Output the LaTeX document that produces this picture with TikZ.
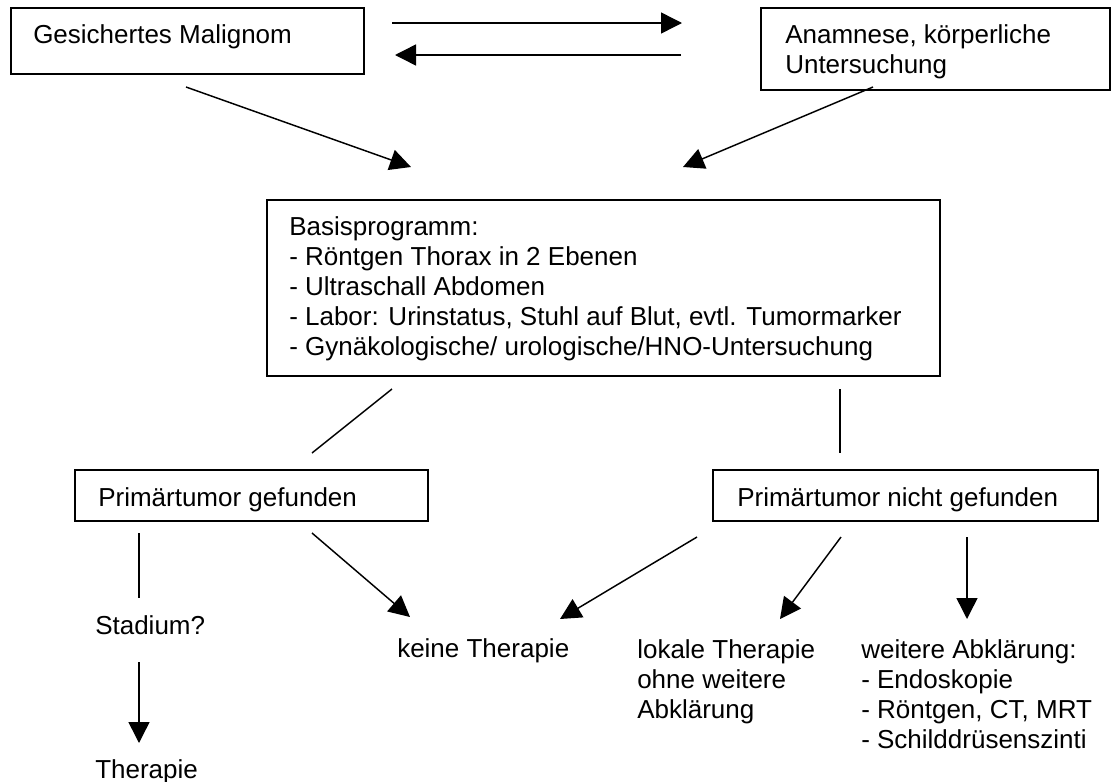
\documentclass[tikz,border=0pt]{standalone}
\usepackage{fontspec}
\setmainfont{Liberation Sans}
\usetikzlibrary{arrows.meta}
\begin{document}
\begin{tikzpicture}[x=0.75pt,y=-0.75pt,
  box/.style={draw, line width=1.4pt, inner sep=0pt, anchor=north west},
  txt/.style={inner sep=0pt, font=\fontsize{19.5}{22.5}\selectfont},
  mtxt/.style={txt, align=left, anchor=north west},
  conn/.style={line width=1.1pt},
  arr/.style={conn, -{Triangle[length=15.75pt,width=15.75pt]}}]
\useasboundingbox (0,0) rectangle (1111,782);
\fill[white] (0,0) rectangle (1111,782);

% boxes
\node[box, minimum width={353*0.75pt}, minimum height={66*0.75pt}] (gm) at (10,7) {};
\node[box, minimum width={349*0.75pt}, minimum height={82*0.75pt}] (an) at (760,7) {};
\node[box, minimum width={673*0.75pt}, minimum height={176*0.75pt}] (bp) at (266,199) {};
\node[box, minimum width={353*0.75pt}, minimum height={51*0.75pt}] (pg) at (74,469) {};
\node[box, minimum width={385*0.75pt}, minimum height={51*0.75pt}] (png) at (712,469) {};

% texts
\node[txt, anchor=base west] (gmt) at (33,43) {Gesichertes Malignom};
\node[mtxt] (ant) at (785,22) {\strut Anamnese, körperliche\\\strut Untersuchung};
\node[mtxt] (bpt) at (289,214) {\strut Basisprogramm:\\
\strut - Röntgen Thorax in 2 Ebenen\\
\strut - Ultraschall Abdomen\\
\strut - Labor: Urinstatus, Stuhl auf Blut, evtl. Tumormarker\\
\strut - Gynäkologische/ urologische/HNO-Untersuchung};
\node[txt, anchor=base west] (pgt) at (98,506) {Primärtumor gefunden};
\node[txt, anchor=base west] (pngt) at (737,506) {Primärtumor nicht gefunden};
\node[txt, anchor=base west] (st) at (95,634) {Stadium?};
\node[txt, anchor=base west] (th) at (95,778) {Therapie};
\node[txt, anchor=base west] (kt) at (397,657) {keine Therapie};
\node[mtxt] (lt) at (637,637) {\strut lokale Therapie\\\strut ohne weitere\\\strut Abklärung};
\node[mtxt] (wa) at (861,637) {\strut weitere Abklärung:\\\strut - Endoskopie\\\strut - Röntgen, CT, MRT\\\strut - Schilddrüsenszinti};

% connector end points
\coordinate (c1a) at (392,23);  \coordinate (c1b) at (682,23);
\coordinate (c2a) at (681,55);  \coordinate (c2b) at (395,55);
\coordinate (c3a) at (186,87);  \coordinate (c3b) at (411,167);
\coordinate (c4a) at (873,87);  \coordinate (c4b) at (683,167);
\coordinate (c5a) at (392,389); \coordinate (c5b) at (312,453);
\coordinate (c6a) at (840,389); \coordinate (c6b) at (840,453);
\coordinate (c7a) at (139,533); \coordinate (c7b) at (139,598);
\coordinate (c8a) at (139,662); \coordinate (c8b) at (139,743);
\coordinate (c9a) at (312,533); \coordinate (c9b) at (410,617);
\coordinate (c10a) at (697,537); \coordinate (c10b) at (560,619);
\coordinate (c11a) at (841,537); \coordinate (c11b) at (780,619);
\coordinate (c12a) at (967,537); \coordinate (c12b) at (967,619);

\draw[arr] (c1a) -- (c1b);
\draw[arr] (c2a) -- (c2b);
\draw[arr] (c3a) -- (c3b);
\draw[arr] (c4a) -- (c4b);
\draw[conn] (c5a) -- (c5b);
\draw[conn] (c6a) -- (c6b);
\draw[conn] (c7a) -- (c7b);
\draw[arr] (c8a) -- (c8b);
\draw[arr] (c9a) -- (c9b);
\draw[arr] (c10a) -- (c10b);
\draw[arr] (c11a) -- (c11b);
\draw[arr] (c12a) -- (c12b);
\end{tikzpicture}
\end{document}
